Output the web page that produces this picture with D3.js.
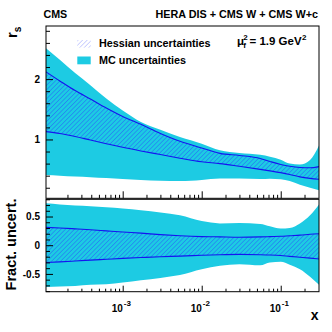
<!DOCTYPE html>
<html>
<head>
<meta charset="utf-8">
<script src="https://cdn.jsdelivr.net/npm/d3@7"></script>
<style>
  body { margin: 0; background: #fff; }
  svg { display: block; }
  text { font-family: "Liberation Sans", Arial, Helvetica, sans-serif; font-weight: bold; fill: #000; }
</style>
</head>
<body>
<div id="chart"></div>
<script>
// x grid shared by all curves
const xs = [1.07e-4, 1.6e-4, 2.5e-4, 3.9e-4, 6.2e-4, 1e-3, 1.7e-3, 3e-3, 5.3e-3, 1e-2, 1.7e-2, 3e-2, 5.5e-2, 7.3e-2, 0.1, 0.13, 0.175, 0.235, 0.305];

// r_s panel
const mcUpR  = [2.51, 2.32, 2.10, 1.90, 1.68, 1.48, 1.29, 1.16, 1.04, 0.93, 0.82, 0.775, 0.745, 0.715, 0.665, 0.60, 0.585, 0.66, 0.90];
const mcLoR  = [0.41, 0.40, 0.385, 0.375, 0.36, 0.345, 0.33, 0.315, 0.31, 0.33, 0.355, 0.355, 0.345, 0.35, 0.34, 0.31, 0.25, 0.20, 0.16];
const hesUpR = [2.12, 1.97, 1.81, 1.67, 1.52, 1.38, 1.25, 1.10, 0.97, 0.86, 0.77, 0.735, 0.685, 0.635, 0.585, 0.555, 0.535, 0.53, 0.55];
const hesLoR = [1.13, 1.10, 1.05, 0.99, 0.93, 0.87, 0.81, 0.75, 0.69, 0.63, 0.60, 0.555, 0.505, 0.48, 0.45, 0.42, 0.38, 0.355, 0.34];

// fractional uncertainty panel
const mcUpF  = [0.73, 0.71, 0.69, 0.68, 0.66, 0.64, 0.61, 0.57, 0.52, 0.42, 0.38, 0.385, 0.37, 0.33, 0.29, 0.30, 0.38, 0.52, 0.71];
const mcLoF  = [-0.73, -0.72, -0.71, -0.69, -0.68, -0.65, -0.61, -0.57, -0.52, -0.42, -0.36, -0.33, -0.35, -0.30, -0.29, -0.34, -0.42, -0.55, -0.69];
const hesUpF = [0.31, 0.30, 0.285, 0.27, 0.25, 0.23, 0.21, 0.185, 0.165, 0.15, 0.145, 0.14, 0.145, 0.15, 0.155, 0.165, 0.175, 0.19, 0.20];
const hesLoF = [-0.30, -0.29, -0.275, -0.26, -0.245, -0.23, -0.215, -0.20, -0.19, -0.175, -0.165, -0.16, -0.165, -0.17, -0.18, -0.195, -0.21, -0.225, -0.24];

// ticks
const xMajor = [1e-3, 1e-2, 1e-1];
const xMajorExp = ["-3", "-2", "-1"];
const xMinor = [2e-4, 3e-4, 4e-4, 5e-4, 6e-4, 7e-4, 8e-4, 9e-4,
                2e-3, 3e-3, 4e-3, 5e-3, 6e-3, 7e-3, 8e-3, 9e-3,
                2e-2, 3e-2, 4e-2, 5e-2, 6e-2, 7e-2, 8e-2, 9e-2, 2e-1];
const yMajorR = [1, 2];
const yMinorR = [0.2, 0.4, 0.6, 0.8, 1.2, 1.4, 1.6, 1.8, 2.2, 2.4, 2.6, 2.8];
const yMajorF = [-0.5, 0, 0.5];
const yMinorF = [-0.8, -0.7, -0.6, -0.4, -0.3, -0.2, -0.1, 0.1, 0.2, 0.3, 0.4, 0.6, 0.7, 0.8];

const W = 332, H = 332;
const left = 46, right = 319;
const top1 = 26, bot1 = 198.3, top2 = 199.3, bot2 = 291.7;

const cyan = '#1dcbe3';
const blue = '#1414f0';

const svg = d3.select('#chart').append('svg')
  .attr('width', W)
  .attr('height', H);

const defs = svg.append('defs');
function hatch(id, op) {
  defs.append('pattern')
    .attr('id', id)
    .attr('patternUnits', 'userSpaceOnUse')
    .attr('width', 3.2)
    .attr('height', 3.2)
    .attr('patternTransform', 'rotate(45)')
    .append('line')
    .attr('x1', 0).attr('y1', 0).attr('x2', 0).attr('y2', 3.2)
    .attr('stroke', '#2a3cff')
    .attr('stroke-opacity', op)
    .attr('stroke-width', 1);
}
hatch('hatch', 0.75);
hatch('hatchLeg', 0.45);

['clipR', 'clipF'].forEach((id, i) => {
  defs.append('clipPath').attr('id', id).append('rect')
    .attr('x', left).attr('width', right - left)
    .attr('y', i ? top2 : top1)
    .attr('height', i ? bot2 - top2 : bot1 - top1);
});

const x = d3.scaleLog().domain([1.07e-4, 0.305]).range([left, right]);
const yR = d3.scaleLinear().domain([0.025, 2.88]).range([bot1, top1]);
const yF = d3.scaleLinear().domain([-0.81, 0.80]).range([bot2, top2]);

function drawPanel(y, clip, mcUp, mcLo, hesUp, hesLo) {
  const g = svg.append('g').attr('clip-path', 'url(#' + clip + ')');
  const area = (up, lo) => d3.area()
    .x((d, i) => x(xs[i]))
    .y0((d, i) => y(lo[i]))
    .y1((d, i) => y(up[i]))
    .curve(d3.curveMonotoneX)(xs);
  const line = vals => d3.line()
    .x((d, i) => x(xs[i]))
    .y((d, i) => y(vals[i]))
    .curve(d3.curveMonotoneX)(xs);

  g.append('path').attr('d', area(mcUp, mcLo)).attr('fill', cyan);
  g.append('path').attr('d', area(hesUp, hesLo)).attr('fill', 'url(#hatch)');
  [hesUp, hesLo].forEach(v => {
    g.append('path').attr('d', line(v))
      .attr('fill', 'none').attr('stroke', blue).attr('stroke-width', 1.1);
  });
}

drawPanel(yR, 'clipR', mcUpR, mcLoR, hesUpR, hesLoR);
drawPanel(yF, 'clipF', mcUpF, mcLoF, hesUpF, hesLoF);

// axes: ticks only, pointing inwards
function ticks(axis, pos, vals, size) {
  const a = svg.append('g')
    .attr('transform', pos)
    .call(axis.tickValues(vals).tickSize(size).tickFormat(''));
  a.select('.domain').remove();
  a.selectAll('line').attr('stroke', '#000').attr('stroke-width', 1);
}
ticks(d3.axisBottom(x), 'translate(0,' + bot1 + ')', xMajor, -7);
ticks(d3.axisBottom(x), 'translate(0,' + bot1 + ')', xMinor, -3.5);
ticks(d3.axisBottom(x), 'translate(0,' + bot2 + ')', xMajor, -6);
ticks(d3.axisBottom(x), 'translate(0,' + bot2 + ')', xMinor, -3);
ticks(d3.axisLeft(yR), 'translate(' + left + ',0)', yMajorR, -7);
ticks(d3.axisLeft(yR), 'translate(' + left + ',0)', yMinorR, -4);
ticks(d3.axisLeft(yF), 'translate(' + left + ',0)', yMajorF, -7);
ticks(d3.axisLeft(yF), 'translate(' + left + ',0)', yMinorF, -4);

// frames
[[top1, bot1], [top2, bot2]].forEach(([t, b]) => {
  svg.append('rect')
    .attr('x', left).attr('y', t)
    .attr('width', right - left).attr('height', b - t)
    .attr('fill', 'none').attr('stroke', '#000').attr('stroke-width', 1);
});

// tick labels
yMajorR.forEach(v => {
  svg.append('text').attr('x', 40).attr('y', yR(v) + 3.6)
    .attr('text-anchor', 'end').style('font-size', '10px').text(v);
});
yMajorF.forEach(v => {
  svg.append('text').attr('x', 40).attr('y', yF(v) + 3.6)
    .attr('text-anchor', 'end').style('font-size', '10px').text(v);
});
xMajor.forEach((v, i) => {
  const t = svg.append('text').attr('x', x(v) - 11).attr('y', 311.5)
    .style('font-size', '10px');
  t.append('tspan').text('10');
  t.append('tspan').attr('dx', 1).attr('dy', -6).style('font-size', '8px').text(xMajorExp[i]);
});

// axis titles
const rt = svg.append('text')
  .attr('transform', 'translate(17,38) rotate(-90)')
  .style('font-size', '14.5px');
rt.append('tspan').text('r');
rt.append('tspan').attr('dy', 3.5).style('font-size', '10px').text('s');

svg.append('text')
  .attr('transform', 'translate(15.5,244.5) rotate(-90)')
  .attr('text-anchor', 'middle')
  .style('font-size', '14.5px')
  .text('Fract. uncert.');

svg.append('text').attr('x', 318.5).attr('y', 320)
  .attr('text-anchor', 'end').style('font-size', '14px').text('x');

// header
svg.append('text').attr('x', 43.5).attr('y', 18.2)
  .style('font-size', '10.7px').text('CMS');
svg.append('text').attr('x', 318).attr('y', 18.2)
  .attr('text-anchor', 'end').style('font-size', '10.8px')
  .text('HERA DIS + CMS W + CMS W+c');

// legend
svg.append('rect').attr('x', 77.3).attr('y', 40).attr('width', 13.4).attr('height', 7.6)
  .attr('fill', 'url(#hatchLeg)');
svg.append('rect').attr('x', 77.3).attr('y', 56.5).attr('width', 13.4).attr('height', 7.8)
  .attr('fill', cyan);
svg.append('text').attr('x', 99).attr('y', 47.2)
  .style('font-size', '10.8px').text('Hessian uncertainties');
svg.append('text').attr('x', 99).attr('y', 64)
  .style('font-size', '10.8px').text('MC uncertainties');

// scale label
const mu = svg.append('text').attr('x', 237).attr('y', 45).style('font-size', '11.5px');
mu.append('tspan').text('\u03bc');
svg.append('text').attr('x', 243.3).attr('y', 48).style('font-size', '8px').text('f');
svg.append('text').attr('x', 243.3).attr('y', 39.5).style('font-size', '8px').text('2');
const ge = svg.append('text').attr('x', 249.5).attr('y', 45).style('font-size', '11.5px')
  .text('= 1.9 GeV');
const gw = ge.node().getComputedTextLength();
svg.append('text').attr('x', 249.5 + gw + 0.5).attr('y', 39.5).style('font-size', '8px').text('2');
</script>
</body>
</html>
